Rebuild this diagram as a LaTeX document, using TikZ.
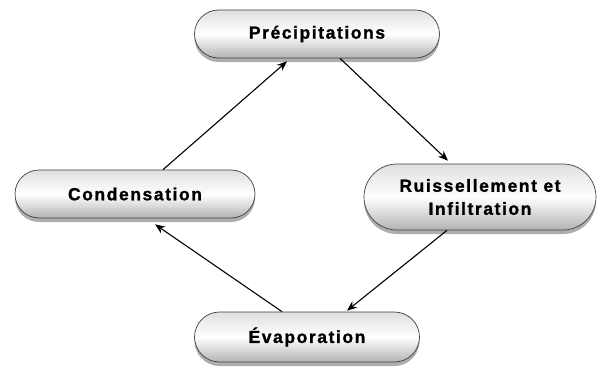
\documentclass[tikz,border=0pt]{standalone}
\usepackage{fontspec}
\newfontfamily\labfont[LetterSpace=9,FakeBold=1.2]{Liberation Sans}
\usetikzlibrary{shadows,arrows.meta,shapes.misc}
\begin{document}
\begin{tikzpicture}[x=1pt,y=-1pt,
  cycbox/.style={rounded rectangle, rounded rectangle arc length=180,
    draw=black!75, line width=0.7pt,
    top color=gray!25, bottom color=gray!60, middle color=white,
    drop shadow={shadow xshift=0pt, shadow yshift=-4pt, opacity=0.45, fill=black!70},
    align=center, font=\labfont\bfseries\fontsize{17.5}{23}\selectfont,
    inner sep=0pt},
  arr/.style={-{Stealth[length=10pt,width=8pt]}, line width=1.1pt, black}]
\useasboundingbox (0,0) rectangle (598,372);
\node[cycbox, minimum width=245pt, minimum height=48pt] (P) at (317,34) {Précipitations};
\node[cycbox, minimum width=240pt, minimum height=48pt] (C) at (135,194) {Condensation};
\node[cycbox, minimum width=232pt, minimum height=66pt] (R) at (480,197) {Ruissellement et\\Infiltration};
\node[cycbox, minimum width=225pt, minimum height=50pt] (E) at (307,337) {Évaporation};
\draw[arr] ([xshift=28pt]C.north) -- ([xshift=-30pt,yshift=-3pt]P.south);
\draw[arr] ([xshift=23pt]P.south) -- ([xshift=-32pt,yshift=3pt]R.north);
\draw[arr] ([xshift=-33pt]R.south) -- ([xshift=40pt,yshift=1pt]E.north);
\draw[arr] ([xshift=-25pt]E.north) -- ([xshift=20pt,yshift=-6pt]C.south);
\end{tikzpicture}
\end{document}
